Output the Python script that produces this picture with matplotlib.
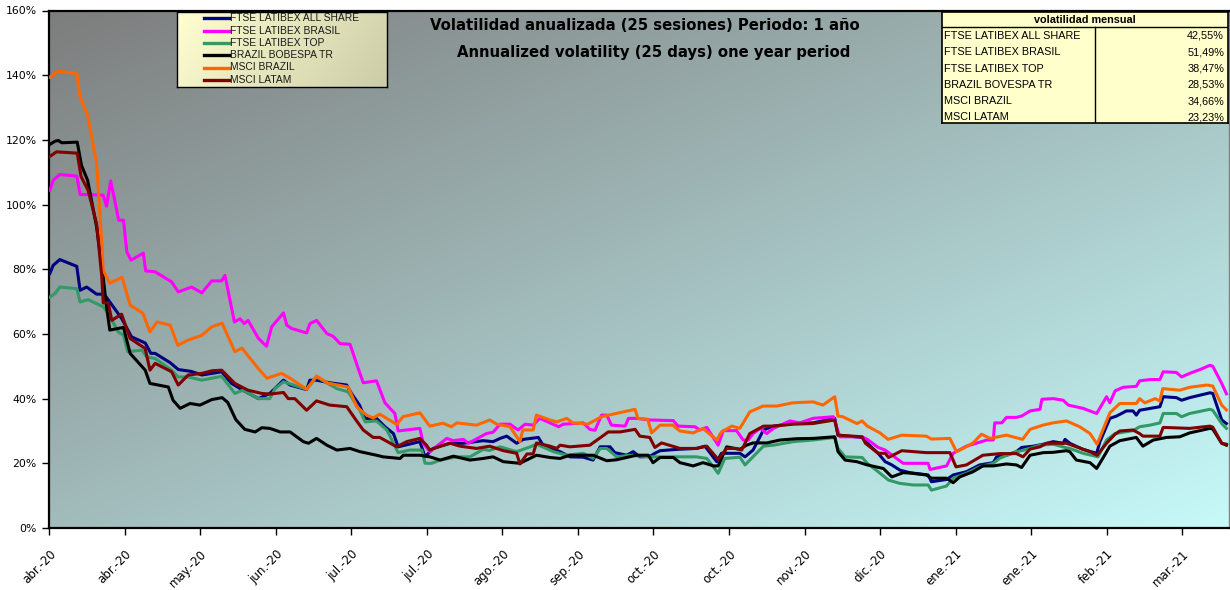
import numpy as np
import matplotlib
matplotlib.use("Agg")
import matplotlib.pyplot as plt
from matplotlib.lines import Line2D

# ---------------- data (trading-day index, annualized volatility %) ----------------
tick_labels = ['abr.-20', 'abr.-20', 'may.-20', 'jun.-20', 'jul.-20', 'jul.-20', 'ago.-20', 'sep.-20',
               'oct.-20', 'oct.-20', 'nov.-20', 'dic.-20', 'ene.-21', 'ene.-21', 'feb.-21', 'mar.-21']
tick_step = 16
n_days = 250

series_names = ["FTSE LATIBEX ALL SHARE", "FTSE LATIBEX BRASIL", "FTSE LATIBEX TOP",
                "BRAZIL BOBESPA TR", "MSCI BRAZIL", "MSCI LATAM"]
series_colors = ["#000080", "#ff00ff", "#339966", "#000000", "#ff6600", "#800000"]

ftse_all_share = [(0.1,78.7),(0.8,81.2),(2.2,83.0),(5.8,80.9),(6.5,73.5),(7.9,74.5),(10.0,72.3),(11.4,72.3),
    (12.1,71.3),(15.3,64.8),(17.4,59.1),(20.3,57.2),(21.5,54.0),(22.4,54.0),(25.6,51.1),(27.3,49.0),
    (30.1,48.4),(32.3,47.3),(34.4,47.8),(36.5,48.3),(38.6,44.7),(41.0,42.6),(44.3,40.0),(46.7,41.6),
    (49.6,45.7),(51.0,44.2),(54.5,42.8),(55.2,45.7),(56.6,45.7),(59.4,44.9),(63.0,44.2),(64.0,41.6),
    (65.7,38.0),(66.9,33.9),(69.3,33.9),(71.1,31.3),(72.9,29.2),(73.9,25.1),(78.5,26.7),(79.6,22.0),
    (81.3,24.6),(84.9,26.2),(87.7,26.2),(91.9,27.0),(94.0,26.7),(95.5,27.7),(96.9,28.4),(99.0,26.2),
    (100.4,27.4),(103.6,28.0),(104.6,25.6),(108.2,23.6),(110.3,22.0),(113.1,21.9),(115.2,21.0),
    (116.7,25.1),(118.8,25.1),(119.8,23.3),(122.3,22.5),(123.7,23.6),(125.1,22.0),(127.2,22.1),
    (128.3,23.1),(129.4,23.9),(132.9,24.3),(137.1,24.6),(138.9,25.3),(141.4,20.5),(142.4,23.1),
    (146.3,23.1),(147.4,22.0),(149.1,24.1),(151.3,30.3),(153.4,31.5),(157.6,32.3),(161.8,32.5),
    (166.4,33.9),(167.1,28.7),(172.2,28.0),(173.3,26.2),(175.6,23.1),(177.1,20.5),(178.5,19.5),
    (180.2,17.9),(182.3,17.1),(186.2,16.4),(186.9,14.3),(190.1,15.0),(191.5,16.4),(194.3,17.4),
    (197.1,19.5),(200.0,20.2),(200.7,22.0),(202.8,22.5),(204.9,23.6),(206.0,24.9),(208.5,25.3),
    (210.6,25.9),(212.7,26.7),(214.8,26.2),(215.2,27.4),(216.2,26.2),(219.0,24.3),(221.9,23.1),
    (222.6,26.7),(224.7,33.9),(226.1,34.6),(228.2,36.2),(229.6,36.2),(230.3,34.9),(231.0,36.4),
    (235.3,37.5),(236.0,40.6),(238.8,40.3),(239.9,39.5),(241.6,40.3),(245.9,41.8),(246.5,41.6),
    (248.4,33.4),(249.4,32.3)]

ftse_brasil = [(0.1,104.4),(0.8,107.5),(2.2,109.3),(5.8,108.8),(6.5,103.1),(8.2,103.1),(11.4,102.9),
    (12.1,99.5),(13.0,107.3),(14.7,95.1),(15.7,95.2),(16.4,85.4),(17.3,82.8),(19.9,85.0),(20.4,79.5),
    (22.4,79.2),(25.9,76.1),(27.3,73.0),(30.1,74.5),(32.3,72.7),(34.4,76.4),(36.5,76.4),(37.2,78.1),
    (39.2,63.7),(40.4,64.7),(41.3,63.2),(42.1,64.2),(44.3,58.6),(46.0,56.2),(47.1,62.2),(49.6,66.5),
    (50.3,62.7),(51.3,61.7),(54.5,60.3),(55.2,63.2),(56.6,64.2),(58.8,60.1),(60.1,59.3),(61.6,57.0),
    (63.7,56.8),(65.2,50.3),(66.5,44.9),(69.3,45.5),(71.1,38.7),(73.2,35.4),(73.9,30.0),(78.5,30.8),
    (79.2,26.2),(80.6,23.6),(84.2,27.7),(85.6,27.0),(87.7,27.4),(88.8,26.2),(92.6,29.2),(94.0,29.6),
    (95.5,32.1),(97.6,32.1),(99.3,30.3),(100.8,32.1),(102.5,31.8),(103.9,33.9),(107.9,31.3),
    (108.9,32.1),(113.1,32.5),(114.5,30.5),(115.6,30.2),(117.0,34.9),(118.1,34.9),(119.1,31.8),
    (122.0,31.5),(122.7,33.9),(124.4,33.9),(127.2,33.4),(132.2,33.2),(133.2,31.5),(136.8,31.3),
    (137.8,30.3),(139.3,31.1),(141.7,25.6),(142.8,30.1),(145.6,30.1),(147.0,27.2),(148.1,27.2),
    (149.1,29.2),(150.6,30.8),(152.0,29.2),(153.4,30.8),(156.9,33.1),(159.0,32.5),(161.8,33.9),
    (166.1,34.4),(167.5,28.2),(172.2,28.2),(173.3,27.4),(175.6,24.9),(177.1,24.1),(180.9,20.0),
    (186.2,20.0),(186.6,18.1),(190.1,19.2),(191.5,23.1),(194.3,25.3),(196.4,26.2),(198.6,27.2),
    (200.0,27.2),(200.3,32.5),(201.8,32.5),(202.8,34.2),(204.9,34.2),(206.0,34.6),(207.8,36.2),
    (209.9,36.7),(210.3,39.8),(212.7,40.0),(214.8,39.5),(215.9,38.0),(219.0,37.0),(221.9,35.4),
    (224.0,40.6),(224.7,38.7),(225.8,42.4),(227.5,43.5),(230.3,43.8),(231.0,45.5),(233.2,45.9),
    (235.3,45.9),(236.0,48.3),(238.8,48.1),(239.9,46.7),(241.6,47.8),(243.8,49.0),(245.9,50.3),
    (246.5,50.0),(248.4,44.7),(249.4,41.5)]

ftse_top = [(0.1,71.4),(1.2,72.5),(2.2,74.5),(5.8,74.0),(6.5,69.9),(8.2,70.6),(11.4,68.4),(12.5,66.3),
    (14.6,60.6),(15.7,59.6),(16.6,54.5),(19.6,55.0),(20.6,52.9),(22.4,52.4),(25.9,48.8),(27.3,46.7),
    (29.4,46.7),(32.3,45.7),(36.5,46.9),(39.3,41.6),(41.0,42.6),(44.3,40.0),(46.7,40.0),(47.8,43.1),
    (49.6,45.2),(54.5,42.9),(56.6,46.7),(60.9,43.1),(63.3,42.1),(65.8,36.4),(66.9,32.8),(69.3,33.1),
    (71.5,30.3),(73.9,23.3),(76.4,24.1),(78.9,24.1),(79.6,20.0),(81.0,20.0),(82.8,21.0),(86.3,22.0),
    (89.1,22.0),(91.9,24.3),(93.3,24.0),(95.5,25.1),(99.0,23.6),(101.9,25.1),(103.2,25.9),
    (106.8,23.6),(109.6,22.5),(113.1,23.1),(115.2,21.5),(116.7,24.6),(118.1,24.6),(120.2,22.0),
    (123.0,22.5),(127.2,22.0),(137.1,22.0),(139.3,21.5),(140.7,18.9),(141.7,16.9),(143.1,21.5),
    (146.3,21.9),(147.4,19.5),(148.4,21.0),(151.3,25.3),(153.4,25.6),(157.6,26.7),(161.8,27.2),
    (166.4,28.0),(167.1,24.6),(168.6,22.0),(172.2,21.8),(173.3,20.0),(175.6,17.4),(177.8,14.8),
    (180.2,13.8),(183.0,13.3),(186.2,13.3),(186.9,11.7),(190.1,13.0),(191.5,15.4),(194.3,16.9),
    (197.1,18.9),(200.0,20.0),(201.4,21.6),(204.9,23.6),(206.3,24.0),(209.9,25.6),(212.7,25.9),
    (215.2,24.9),(216.2,24.6),(219.0,23.1),(222.2,22.0),(224.0,27.2),(225.8,29.2),(229.6,30.1),
    (231.0,31.3),(233.2,31.8),(235.3,32.5),(236.0,35.4),(238.8,35.4),(239.9,34.4),(241.6,35.4),
    (245.9,36.7),(246.5,36.4),(248.4,32.3),(249.4,30.8)]

brazil_bovespa = [(0.1,118.6),(1.2,119.6),(1.9,119.8),(2.6,119.1),(5.9,119.3),(6.8,112.1),(8.1,107.5),
    (10.0,93.1),(11.4,77.6),(12.1,68.4),(12.8,61.2),(15.7,62.0),(17.1,54.0),(20.3,48.8),(21.3,44.7),
    (25.2,43.6),(26.2,39.5),(27.7,37.0),(29.8,38.5),(31.9,38.0),(34.4,39.7),(36.6,40.3),(37.8,38.8),
    (39.5,33.5),(41.4,30.5),(43.6,29.7),(45.0,31.0),(46.7,30.8),(48.9,29.7),(51.0,29.7),(53.8,26.7),
    (54.9,26.2),(56.6,27.7),(58.8,25.6),(60.9,24.1),(63.7,24.6),(65.8,23.6),(69.3,22.5),(70.7,22.0),
    (74.3,21.5),(75.0,22.5),(78.5,22.5),(80.6,22.0),(82.8,21.0),(85.6,22.2),(89.1,21.0),(91.9,21.5),
    (94.0,22.0),(96.2,20.5),(99.7,20.0),(103.2,22.5),(106.1,21.8),(108.2,21.5),(110.3,22.5),
    (115.2,22.5),(118.1,20.8),(120.2,21.1),(124.4,22.5),(126.9,22.5),(127.9,20.2),(129.4,21.8),
    (132.2,21.8),(133.6,20.2),(136.4,19.2),(138.5,20.2),(140.7,19.2),(141.7,19.2),(143.5,25.1),
    (146.3,24.3),(147.7,25.6),(149.1,26.3),(152.0,26.3),(154.8,27.2),(158.3,27.6),(161.8,27.7),
    (166.4,28.2),(167.1,23.6),(168.6,21.0),(171.1,20.5),(173.3,19.5),(176.7,18.4),(178.5,15.8),
    (180.9,17.1),(182.3,17.0),(185.8,16.4),(186.9,15.4),(190.1,15.4),(191.5,14.0),(192.9,15.8),
    (195.7,17.4),(197.8,19.2),(200.0,19.2),(202.8,19.8),(204.9,19.5),(206.0,18.7),(207.8,22.5),
    (210.6,23.3),(212.7,23.4),(215.5,23.9),(216.2,23.6),(217.6,21.0),(220.5,20.2),(221.9,18.4),
    (223.3,21.8),(224.7,25.3),(226.8,27.0),(230.3,28.0),(231.7,25.3),(233.9,27.2),(236.7,28.0),
    (239.5,28.2),(241.6,29.4),(245.9,30.8),(246.5,30.6),(248.4,26.2),(249.4,25.6)]

msci_brazil = [(0.1,139.4),(1.9,141.2),(5.8,140.6),(6.5,133.2),(8.1,127.6),(10.0,112.7),(11.1,88.0),
    (11.4,79.7),(12.8,75.7),(15.4,77.5),(17.1,68.9),(19.8,66.4),(21.3,60.6),(22.8,63.7),(25.6,62.7),
    (27.2,56.5),(29.4,58.1),(32.3,59.6),(34.4,62.2),(36.6,63.3),(39.3,54.5),(40.8,55.6),(44.2,49.4),
    (46.1,46.3),(49.2,47.8),(51.0,46.3),(54.5,42.9),(56.6,47.0),(59.0,44.8),(63.3,43.6),(65.1,37.5),
    (67.2,34.9),(68.6,34.0),(70.0,35.2),(73.6,32.0),(74.9,34.4),(78.5,35.6),(80.6,31.5),(83.4,32.4),
    (85.2,31.3),(86.3,32.5),(90.5,31.8),(93.3,33.4),(94.8,32.1),(97.6,31.3),(99.7,26.7),(100.3,30.3),
    (102.5,30.3),(103.2,34.9),(106.1,33.4),(107.5,32.8),(109.6,33.9),(110.9,32.5),(114.1,32.1),
    (117.0,34.4),(119.4,35.2),(124.1,36.7),(124.7,33.9),(126.8,33.6),(127.6,29.4),(129.4,31.8),
    (132.1,31.8),(133.6,30.0),(136.4,29.4),(138.5,30.8),(141.4,27.2),(142.4,29.7),(144.6,31.5),
    (146.3,30.8),(148.4,35.9),(151.2,37.7),(154.1,37.7),(157.5,38.7),(161.8,39.0),(163.9,38.0),
    (166.4,40.6),(167.1,34.6),(168.1,34.4),(171.1,32.3),(172.2,33.1),(173.3,31.5),(176.0,29.4),
    (177.7,27.4),(180.6,28.7),(185.8,28.4),(186.9,27.5),(190.8,27.7),(192.2,23.6),(193.6,24.6),
    (195.7,26.3),(197.5,29.0),(199.3,27.7),(202.8,28.7),(206.2,27.4),(207.8,30.5),(210.5,31.8),
    (212.6,32.5),(215.5,33.1),(218.3,31.3),(220.5,29.2),(222.0,25.9),(224.7,35.6),(226.8,38.5),
    (230.3,38.5),(231.0,40.0),(232.1,38.7),(234.3,40.0),(235.3,39.3),(235.9,43.1),(239.5,42.6),
    (241.6,43.5),(245.2,44.2),(246.5,43.9),(248.4,38.0),(249.4,36.5)]

msci_latam = [(0.1,114.9),(1.5,116.3),(5.9,115.9),(6.7,108.7),(8.2,104.4),(10.0,94.1),(11.1,77.6),
    (11.4,69.6),(12.5,69.6),(13.2,64.2),(15.3,66.1),(17.1,58.6),(20.3,55.5),(21.3,48.8),(22.4,50.9),
    (25.9,48.3),(27.3,44.2),(29.4,47.3),(32.3,47.8),(34.4,48.6),(36.5,48.8),(39.3,44.7),(42.1,42.6),
    (45.0,41.6),(46.7,41.4),(49.6,41.9),(50.6,40.0),(52.0,40.0),(54.5,36.4),(56.6,39.3),(59.4,38.0),
    (63.0,37.5),(65.1,33.1),(66.5,30.3),(68.6,28.0),(70.0,28.0),(73.6,25.1),(75.7,26.7),(78.5,27.7),
    (79.9,25.6),(80.6,24.1),(82.8,25.3),(84.9,26.2),(87.0,25.3),(90.5,24.6),(93.3,25.3),(96.2,23.9),
    (99.0,23.1),(99.7,19.8),(101.2,22.9),(102.5,22.9),(103.2,26.3),(106.1,25.3),(107.5,24.6),
    (108.2,25.6),(110.3,25.1),(114.5,25.6),(117.0,28.2),(118.4,29.7),(120.9,29.7),(124.1,30.5),
    (125.1,28.4),(127.2,28.0),(128.3,24.9),(129.7,26.3),(132.5,25.1),(133.6,24.6),(137.1,24.6),
    (139.3,25.3),(141.7,21.2),(143.5,24.6),(145.6,24.6),(146.7,24.1),(148.4,29.2),(151.3,31.5),
    (153.4,31.5),(157.6,32.1),(161.8,32.3),(166.4,33.4),(167.1,28.7),(172.2,28.2),(172.9,26.2),
    (175.6,23.1),(177.1,23.1),(177.8,21.8),(180.6,23.9),(185.8,23.3),(190.8,23.3),(192.1,18.9),
    (194.3,19.5),(197.8,22.5),(201.4,23.0),(204.9,23.0),(206.3,22.0),(207.8,24.4),(209.9,25.1),
    (211.3,26.2),(215.5,26.2),(217.6,25.1),(220.5,23.6),(222.0,22.5),(224.0,26.2),(225.8,29.0),
    (226.8,30.0),(229.6,30.3),(231.0,29.2),(231.7,28.4),(235.3,28.4),(236.0,31.1),(241.6,30.8),
    (245.9,31.5),(246.5,31.2),(248.4,26.2),(249.4,25.9)]

all_series = [ftse_all_share, ftse_brasil, ftse_top, brazil_bovespa, msci_brazil, msci_latam]

table_title = "volatilidad mensual"
table_names = ["FTSE LATIBEX ALL SHARE", "FTSE LATIBEX BRASIL", "FTSE LATIBEX TOP",
               "BRAZIL BOVESPA TR", "MSCI BRAZIL", "MSCI LATAM"]
table_values = ["42,55%", "51,49%", "38,47%", "28,53%", "34,66%", "23,23%"]

title_lines = ["Volatilidad anualizada (25 sesiones) Periodo: 1 año",
               "Annualized volatility (25 days) one year period"]

# ---------------- figure ----------------
W, H = 1230, 590
fig = plt.figure(figsize=(W / 100, H / 100), dpi=100)
fig.patch.set_facecolor("white")

def fx(px):
    return px / W

def fy(py):
    return 1 - py / H

ax_l, ax_r, ax_t, ax_b = 49.4, 1228.8, 10.5, 528
ax = fig.add_axes([fx(ax_l), fy(ax_b), fx(ax_r - ax_l), (ax_b - ax_t) / H])

# diagonal gradient background
gw, gh = 300, 140
u = np.linspace(0, 1, gw)[None, :]
v = np.linspace(0, 1, gh)[:, None]       # 0 at top
t = (u + v) / 2.0
c0 = np.array([0.49, 0.49, 0.49])
c1 = np.array([0.78, 0.98, 0.98])
grad = c0[None, None, :] * (1 - t[..., None]) + c1[None, None, :] * t[..., None]
ax.imshow(grad, extent=[0, 1, 0, 1], transform=ax.transAxes, aspect="auto",
          zorder=0, interpolation="bilinear")

for pts, col in zip(all_series, series_colors):
    xs = [p[0] for p in pts]
    ys = [p[1] for p in pts]
    ax.plot(xs, ys, color=col, lw=2.2, solid_joinstyle="round", zorder=3)

ax.set_xlim(0, 249.9)
ax.set_ylim(0, 160)
ax.set_yticks(np.arange(0, 161, 20))
ax.set_yticklabels([f"{int(v)}%" for v in np.arange(0, 161, 20)], fontsize=7.8,
                   family="DejaVu Sans")
ax.set_xticks(np.arange(0, len(tick_labels) * tick_step, tick_step))
ax.set_xticklabels(tick_labels, rotation=45, ha="right", va="top", rotation_mode="anchor",
                   fontsize=8.5, family="DejaVu Sans")
ax.tick_params(axis="y", direction="out", length=5, width=1, pad=4)
ax.tick_params(axis="x", direction="out", length=5, width=1, pad=9)
for s in ["left", "bottom", "top"]:
    ax.spines[s].set_linewidth(1.6)
    ax.spines[s].set_color("black")
ax.spines["right"].set_linewidth(1.0)
ax.spines["right"].set_color("#808080")

# ---------------- title ----------------
fig.text(fx(645), fy(26), title_lines[0], ha="center", va="center", fontsize=10.7,
         fontweight="bold", family="DejaVu Sans")
fig.text(fx(654), fy(52), title_lines[1], ha="center", va="center", fontsize=10.7,
         fontweight="bold", family="DejaVu Sans")

# ---------------- legend box ----------------
lx0, ly0, lx1, ly1 = 177, 12, 387, 87
lax = fig.add_axes([fx(lx0), fy(ly1), fx(lx1 - lx0), (ly1 - ly0) / H])
lw_, lh_ = lx1 - lx0, ly1 - ly0
lu = np.linspace(0, 1, 200)[None, :]
lv = np.linspace(0, 1, 60)[:, None]
lt = np.clip(0.8 * lu + 0.2 * lv, 0, 1)
la = np.array([1.0, 1.0, 0.82])
lb = np.array([0.80, 0.80, 0.66])
lgrad = la[None, None, :] * (1 - lt[..., None]) + lb[None, None, :] * lt[..., None]
lax.imshow(lgrad, extent=[0, lw_, lh_, 0], aspect="auto", zorder=0)
lax.set_xlim(0, lw_)
lax.set_ylim(lh_, 0)
lax.set_xticks([])
lax.set_yticks([])
for s in lax.spines.values():
    s.set_linewidth(1.0)
    s.set_color("black")
for i, (name, col) in enumerate(zip(series_names, series_colors)):
    yy = 6.3 + i * 12.3
    lax.add_line(Line2D([27, 52], [yy, yy], color=col, lw=2.4))
    lax.text(53, yy, name, ha="left", va="center", fontsize=7.4, family="Liberation Sans",
             color="#1a1a1a")

# ---------------- table ----------------
tx0, ty0, tx1, ty1 = 942, 12, 1228, 123
tax = fig.add_axes([fx(tx0), fy(ty1), fx(tx1 - tx0), (ty1 - ty0) / H])
tw, th = tx1 - tx0, ty1 - ty0
tax.set_xlim(0, tw)
tax.set_ylim(th, 0)
tax.set_facecolor("#ffffcc")
tax.set_xticks([])
tax.set_yticks([])
for s in tax.spines.values():
    s.set_linewidth(1.2)
    s.set_color("black")
tax.plot([0, tw], [15, 15], color="black", lw=1.0)
tax.plot([153, 153], [15, th], color="black", lw=1.0)
tax.text(143, 8, table_title, ha="center", va="center", fontsize=7.8, fontweight="bold",
         family="Liberation Sans")
for i, (nm, val) in enumerate(zip(table_names, table_values)):
    yy = 24 + i * 16.3
    tax.text(2, yy, nm, ha="left", va="center", fontsize=7.8, family="Liberation Sans")
    tax.text(tw - 4, yy, val, ha="right", va="center", fontsize=7.8, family="Liberation Sans")

fig.savefig("out.png", dpi=100, facecolor="white")
